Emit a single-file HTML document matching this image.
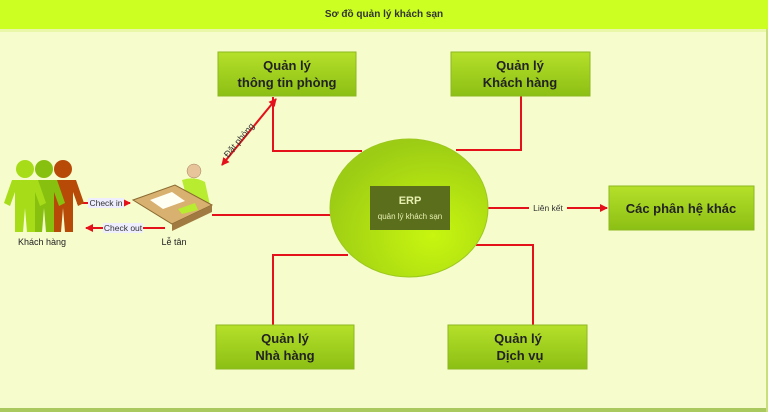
<!DOCTYPE html>
<html><head><meta charset="utf-8"><style>
html,body{margin:0;padding:0;width:768px;height:412px;overflow:hidden;background:#f6fccc}
svg{display:block;font-family:"Liberation Sans","DejaVu Sans",sans-serif}
</style></head><body>
<svg width="768" height="412" viewBox="0 0 768 412" xmlns="http://www.w3.org/2000/svg">
<defs>
<linearGradient id="bx" x1="0" y1="0" x2="0" y2="1"><stop offset="0" stop-color="#b5e02a"/><stop offset="1" stop-color="#8cbf14"/></linearGradient>
<radialGradient id="el" cx="0.65" cy="0.7" r="0.7"><stop offset="0" stop-color="#c8f610"/><stop offset="1" stop-color="#9ccc14"/></radialGradient>
<marker id="ah" markerWidth="8" markerHeight="8" refX="7" refY="4" orient="auto" markerUnits="userSpaceOnUse"><path d="M0,0 L8,4 L0,8z" fill="#e4101a"/></marker>
<marker id="as" markerWidth="8" markerHeight="8" refX="1" refY="4" orient="auto" markerUnits="userSpaceOnUse"><path d="M8,0 L0,4 L8,8z" fill="#e4101a"/></marker>
</defs>
<rect width="768" height="412" fill="#f6fccc"/>
<rect x="0" y="0" width="768" height="29" fill="#ccff22"/>
<rect x="0" y="29" width="768" height="3" fill="#e8f7a8"/>
<rect x="0" y="408" width="768" height="4" fill="#a9c95e"/>
<rect x="766" y="29" width="2" height="383" fill="#c9e07a"/>
<text x="384" y="17" font-size="10" font-weight="bold" text-anchor="middle" fill="#333">Sơ đồ quản lý khách sạn</text>

<g stroke="#e4101a" stroke-width="2" fill="none">
<polyline points="273,97 273,151 362,151"/>
<polyline points="521,96 521,150 456,150"/>
<polyline points="212,215 331,215"/>
<polyline points="273,325 273,255 348,255"/>
<polyline points="533,325 533,245 476,245"/>
<line x1="487" y1="208" x2="607" y2="208" marker-end="url(#ah)"/>
<line x1="222" y1="165" x2="276" y2="99" marker-end="url(#ah)" marker-start="url(#as)"/>
<line x1="77" y1="203" x2="130" y2="203" marker-end="url(#ah)"/>
<line x1="165" y1="228" x2="86" y2="228" marker-end="url(#ah)"/>
</g>

<ellipse cx="409" cy="208" rx="79" ry="69" fill="url(#el)" stroke="#9cc81e" stroke-width="1"/>
<rect x="370" y="186" width="80" height="44" fill="#5a6e1c"/>
<text x="410" y="204" font-size="11" font-weight="bold" text-anchor="middle" fill="#e8f0b0">ERP</text>
<text x="410" y="219" font-size="8" text-anchor="middle" fill="#e8f0b0">quản lý khách sạn</text>

<g fill="url(#bx)" stroke="#8cb820">
<rect x="218" y="52" width="138" height="44"/>
<rect x="451" y="52" width="139" height="44"/>
<rect x="216" y="325" width="138" height="44"/>
<rect x="448" y="325" width="139" height="44"/>
<rect x="609" y="186" width="145" height="44"/>
</g>
<g font-size="13" font-weight="bold" text-anchor="middle" fill="#222">
<text x="287" y="70">Quản lý</text><text x="287" y="87">thông tin phòng</text>
<text x="520" y="70">Quản lý</text><text x="520" y="87">Khách hàng</text>
<text x="285" y="343">Quản lý</text><text x="285" y="360">Nhà hàng</text>
<text x="518" y="343">Quản lý</text><text x="520" y="360">Dịch vụ</text>
<text x="681" y="213">Các phân hệ khác</text>
</g>

<rect x="529" y="202" width="38" height="11" fill="#f6fccc"/>
<text x="548" y="211" font-size="8.5" text-anchor="middle" fill="#333">Liên kết</text>
<rect x="88" y="198" width="36" height="10" fill="#eef"/>
<text x="106" y="206" font-size="8.5" text-anchor="middle" fill="#333">Check in</text>
<rect x="103" y="223" width="40" height="10" fill="#eef"/>
<text x="123" y="231" font-size="8.5" text-anchor="middle" fill="#333">Check out</text>
<text x="0" y="0" font-size="9" fill="#333" transform="translate(228,158) rotate(-50)">Đặt phòng</text>

<g>
<g fill="#b84a08"><circle cx="63" cy="169" r="9"/><path d="M50,180 L76,180 L84,203 L78,206 L73,192 L73,232 L65,232 L63,208 L61,232 L53,232 L53,192 L48,206 L42,203z"/></g>
<g fill="#88c010"><circle cx="44" cy="169" r="9"/><path d="M31,180 L57,180 L65,203 L59,206 L54,192 L54,232 L46,232 L44,208 L42,232 L34,232 L34,192 L29,206 L23,203z"/></g>
<g fill="#a6dc18"><circle cx="25" cy="169" r="9"/><path d="M12,180 L38,180 L46,203 L40,206 L35,192 L35,232 L27,232 L25,208 L23,232 L15,232 L15,192 L10,206 L4,203z"/></g>
</g>
<text x="42" y="245" font-size="9" text-anchor="middle" fill="#222">Khách hàng</text>

<g>
<circle cx="194" cy="171" r="7" fill="#e8c49a" stroke="#a08060" stroke-width="0.5"/>
<path d="M182,180 Q194,176 205,182 L210,205 L190,210z" fill="#b8ec30"/>
<path d="M133,200 L175,185 L212,205 L172,224z" fill="#d8b070" stroke="#8a6a30"/>
<path d="M172,224 L212,205 L212,212 L172,231z" fill="#a07a40"/>
<path d="M150,200 L172,192 L185,201 L163,209z" fill="#fffff4"/>
<path d="M178,209 L195,203 L198,210 L182,214z" fill="#b8ec30"/>
</g>
<text x="174" y="245" font-size="9" text-anchor="middle" fill="#222">Lễ tân</text>
</svg>
</body></html>
